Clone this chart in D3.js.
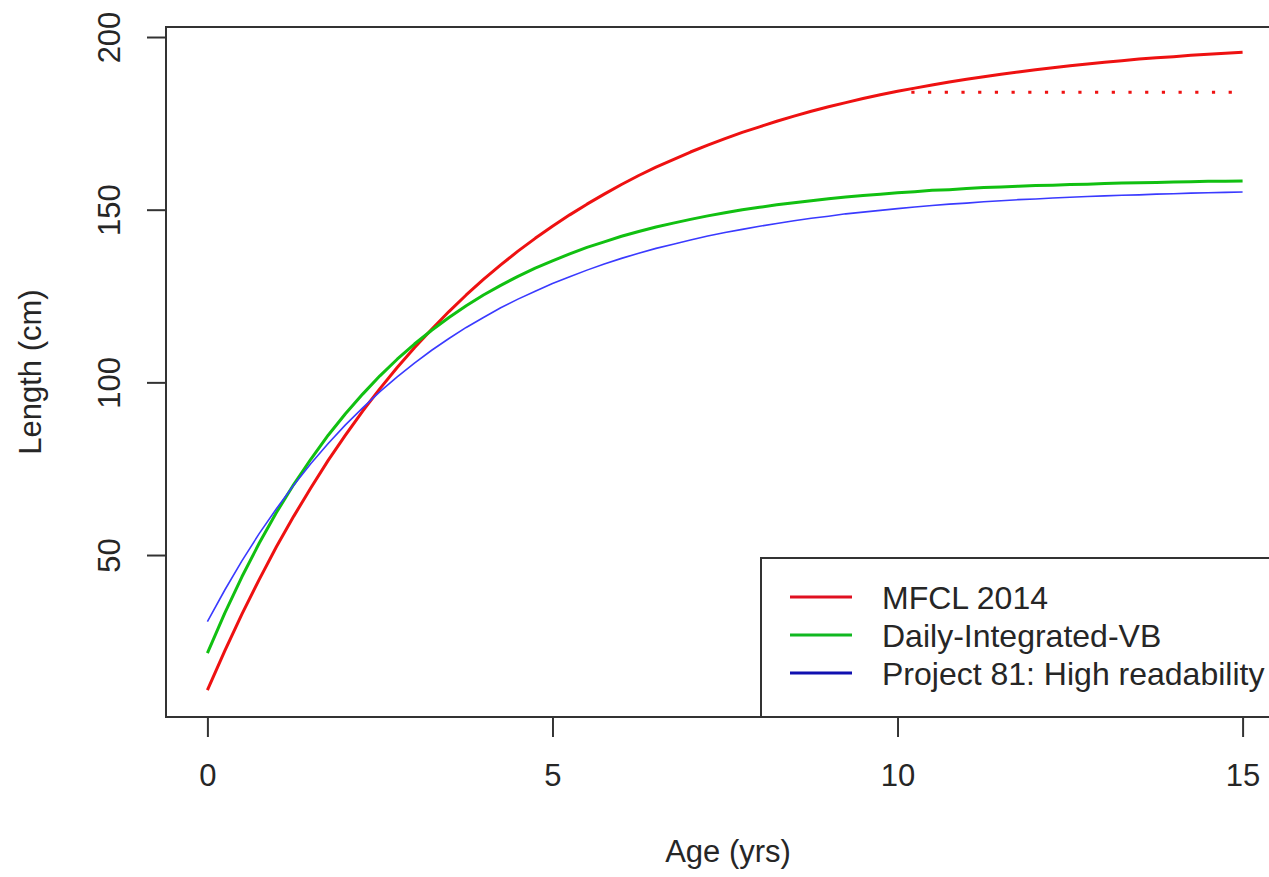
<!DOCTYPE html>
<html>
<head>
<meta charset="utf-8">
<script src="https://cdn.jsdelivr.net/npm/d3@7"></script>
<style>
  html, body { margin: 0; padding: 0; background: #fff; }
  svg { display: block; }
  text { font-family: "Liberation Sans", Arial, sans-serif; fill: #262626; }
</style>
</head>
<body>
<svg id="chart" width="1269" height="877"></svg>
<script>
// ---- data ----
const ages = [0,0.25,0.5,0.75,1,1.25,1.5,1.75,2,2.25,2.5,2.75,3,3.25,3.5,3.75,4,4.25,4.5,4.75,5,5.25,5.5,5.75,6,6.25,6.5,6.75,7,7.25,7.5,7.75,8,8.25,8.5,8.75,9,9.25,9.5,9.75,10,10.25,10.5,10.75,11,11.25,11.5,11.75,12,12.25,12.5,12.75,13,13.25,13.5,13.75,14,14.25,14.5,14.75,15];
const mfcl2014 = [10.9,22.2,32.9,42.9,52.4,61.2,69.5,77.4,84.7,91.7,98.2,104.3,110.0,115.4,120.5,125.3,129.8,134.0,138.0,141.7,145.2,148.5,151.6,154.5,157.3,159.9,162.3,164.5,166.7,168.7,170.6,172.4,174.0,175.6,177.1,178.5,179.8,181.0,182.2,183.3,184.3,185.2,186.1,187.0,187.8,188.5,189.2,189.9,190.5,191.1,191.7,192.2,192.7,193.1,193.6,194.0,194.3,194.7,195.0,195.3,195.6];
const dailyIntegratedVB = [21.6,33.1,43.7,53.4,62.3,70.4,77.8,84.7,90.9,96.6,101.9,106.7,111.1,115.1,118.8,122.2,125.3,128.1,130.7,133.1,135.2,137.2,139.1,140.7,142.3,143.7,145.0,146.1,147.2,148.2,149.1,150.0,150.7,151.4,152.0,152.6,153.2,153.7,154.1,154.5,154.9,155.2,155.6,155.8,156.1,156.4,156.6,156.8,157.0,157.1,157.3,157.4,157.6,157.7,157.8,157.9,158.0,158.1,158.2,158.2,158.3];
const project81 = [30.7,39.8,48.3,56.2,63.4,70.2,76.5,82.3,87.7,92.6,97.3,101.6,105.6,109.3,112.7,115.9,118.8,121.6,124.1,126.4,128.6,130.6,132.5,134.3,135.9,137.4,138.8,140.0,141.2,142.4,143.4,144.3,145.2,146.0,146.8,147.5,148.1,148.8,149.3,149.8,150.3,150.8,151.2,151.6,151.9,152.3,152.6,152.9,153.1,153.4,153.6,153.8,154.0,154.2,154.3,154.5,154.6,154.8,154.9,155.0,155.1];
const mfclRefAges = [10.2, 15];
const mfclRefLength = [184, 184];

const xTicks = [0, 5, 10, 15];
const yTicks = [50, 100, 150, 200];
const seriesNames = ["MFCL 2014", "Daily-Integrated-VB", "Project 81: High readability"];
const xTitle = "Age (yrs)";
const yTitle = "Length (cm)";

// ---- layout ----
const svg = d3.select("#chart");
const pL = 166, pR = 1284, pT = 27, pB = 717;
const x = d3.scaleLinear().domain([-0.6, 15.6]).range([pL, pR]);
const y = d3.scaleLinear().domain([3.1, 202.9]).range([pB, pT]);
const FS = 31;
const axisCol = "#333";

const seriesStyle = [
  {data: mfcl2014, color: "#ee1111", width: 3},
  {data: dailyIntegratedVB, color: "#11c011", width: 3},
  {data: project81, color: "#3a3aff", width: 1.6}
];

// curves
const line = d3.line().x(d => x(d[0])).y(d => y(d[1]));
seriesStyle.forEach(s => {
  svg.append("path")
    .datum(ages.map((a, i) => [a, s.data[i]]))
    .attr("fill", "none")
    .attr("stroke", s.color)
    .attr("stroke-width", s.width)
    .attr("stroke-linejoin", "round")
    .attr("d", line);
});

// dotted reference line
svg.append("path")
  .datum(mfclRefAges.map((a, i) => [a, mfclRefLength[i]]))
  .attr("fill", "none")
  .attr("stroke", "#ee1111")
  .attr("stroke-width", 3.2)
  .attr("stroke-dasharray", "3.2,13.5")
  .attr("d", line);

// plot box
svg.append("rect")
  .attr("x", pL).attr("y", pT)
  .attr("width", pR - pL).attr("height", pB - pT)
  .attr("fill", "none").attr("stroke", axisCol).attr("stroke-width", 2);

// x axis
const gx = svg.append("g")
  .attr("transform", `translate(0,${pB})`)
  .call(d3.axisBottom(x).tickValues(xTicks).tickSize(20).tickPadding(27).tickSizeOuter(0));
gx.select(".domain").remove();
gx.selectAll("line").attr("stroke", axisCol).attr("stroke-width", 2);
gx.selectAll("text").attr("font-size", FS).attr("fill", "#262626")
  .style("font-family", '"Liberation Sans", Arial, sans-serif');

// y axis
const gy = svg.append("g")
  .attr("transform", `translate(${pL},0)`)
  .call(d3.axisLeft(y).tickValues(yTicks).tickSize(19).tickSizeOuter(0));
gy.select(".domain").remove();
gy.selectAll("line").attr("stroke", axisCol).attr("stroke-width", 2);
gy.selectAll("text")
  .attr("x", null).attr("dy", null)
  .attr("transform", "translate(-46,0) rotate(-90)")
  .attr("text-anchor", "middle")
  .attr("font-size", FS).attr("fill", "#262626")
  .style("font-family", '"Liberation Sans", Arial, sans-serif');

// axis titles
svg.append("text")
  .attr("x", (pL + pR) / 2 + 3).attr("y", 862)
  .attr("text-anchor", "middle").attr("font-size", FS)
  .text(xTitle);
svg.append("text")
  .attr("transform", `translate(41,${(pT + pB) / 2}) rotate(-90)`)
  .attr("text-anchor", "middle").attr("font-size", FS)
  .text(yTitle);

// legend
const legX = 761, legY = 558;
svg.append("rect")
  .attr("x", legX).attr("y", legY)
  .attr("width", pR - legX + 20).attr("height", pB - legY)
  .attr("fill", "#fff").attr("stroke", axisCol).attr("stroke-width", 2);
const legColors = ["#e01020", "#10b820", "#1010b0"];
seriesNames.forEach((name, i) => {
  const ly = 597 + i * 38;
  svg.append("line")
    .attr("x1", 790).attr("x2", 852).attr("y1", ly).attr("y2", ly)
    .attr("stroke", legColors[i]).attr("stroke-width", 3);
  svg.append("text")
    .attr("x", 882).attr("y", ly).attr("dy", "0.37em")
    .attr("font-size", 32)
    .text(name);
});
</script>
</body>
</html>
